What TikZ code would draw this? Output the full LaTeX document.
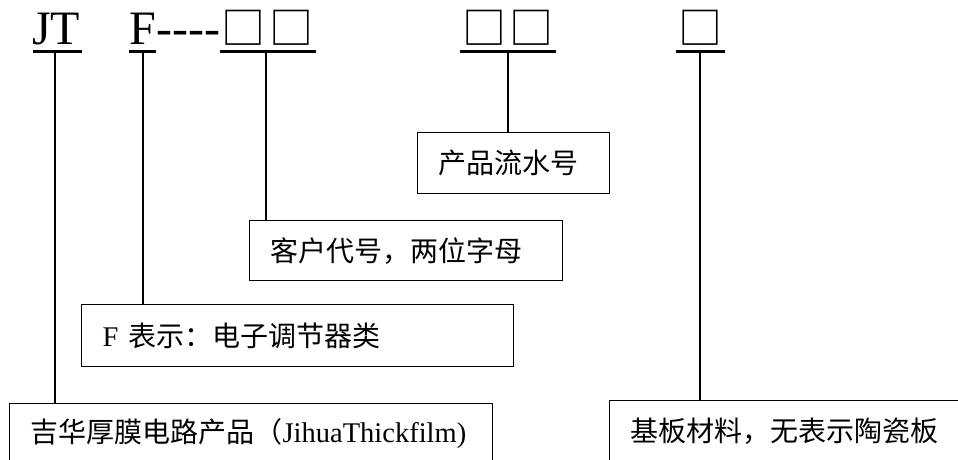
\documentclass[tikz,border=0pt]{standalone}
\usepackage{fontspec}
\setmainfont{Liberation Serif}
\newfontfamily\cjk{Noto Sans CJK SC}
\begin{document}
\begin{tikzpicture}[x=1pt,y=-1pt,
  lbl/.style={inner sep=0pt, anchor=base west, font=\fontsize{48}{50}\selectfont},
  sq/.style={inner sep=0pt, anchor=center, font=\cjk\fontsize{44}{46}\selectfont},
  uline/.style={line width=3pt},
  conn/.style={line width=1.3pt},
  box/.style={draw, line width=1.3pt, anchor=north west, inner xsep=21pt, inner ysep=0pt,
    align=left, font=\fontsize{28.5}{30}\selectfont}
]
\useasboundingbox (0,0) rectangle (958,460);
\clip (0,0) rectangle (958,460);

% top code line
\node[lbl] (jt) at (32,45) {JT};
\node[lbl] (f) at (129,45) {F};
\node[lbl] (dash) at (f.base east) {-{}-{}-{}-};
\node[sq] (s1) at (243,27.5) {□};
\node[sq] (s2) at (291,27.5) {□};
\node[sq] (s3) at (484,27.5) {□};
\node[sq] (s4) at (531.5,27.5) {□};
\node[sq] (s5) at (700,27.5) {□};

% underlines
\draw[uline] (33,52) -- (82,52);
\draw[uline] (129,52) -- (156,52);
\draw[uline] (220,52) -- (316,52);
\draw[uline] (460,52) -- (556,52);
\draw[uline] (676,52) -- (725,52);

\coordinate (u1) at (55,52);
\coordinate (u2) at (143,52);
\coordinate (u3) at (266,52);
\coordinate (u4) at (508,52);
\coordinate (u5) at (700,52);

% boxes
\node[box, text width=150pt, minimum height=61pt] (bp) at (417,132) {{\cjk\fontsize{28}{30}\selectfont 产品流水号}};
\node[box, text width=271pt, minimum height=60pt] (bk) at (249,220) {{\cjk\fontsize{28}{30}\selectfont 客户代号，两位字母}};
\node[box, text width=390pt, minimum height=62pt] (bf) at (81,304) {F {\cjk\fontsize{28}{30}\selectfont 表示：电子调节器类}};
\node[box, text width=441pt, minimum height=60pt] (bj) at (9,403) {{\cjk\fontsize{28}{30}\selectfont 吉华厚膜电路产品（}JihuaThickfilm)};
\node[box, text width=330pt, minimum height=62pt] (bb) at (609,400) {{\cjk\fontsize{28}{30}\selectfont 基板材料，无表示陶瓷板}};

% connectors
\draw[conn] (u1) -- (u1 |- bj.north);
\draw[conn] (u2) -- (u2 |- bf.north);
\draw[conn] (u3) -- (u3 |- bk.north);
\draw[conn] (u4) -- (u4 |- bp.north);
\draw[conn] (u5) -- (u5 |- bb.north);
\end{tikzpicture}
\end{document}
